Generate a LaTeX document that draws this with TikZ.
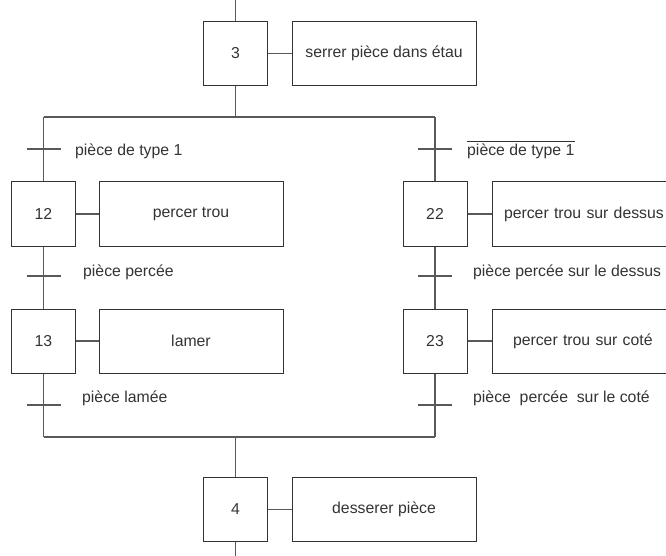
\documentclass[tikz,border=0pt]{standalone}
\usepackage{fontspec}
\setmainfont{Liberation Sans}
\begin{document}
\begin{tikzpicture}[x=1pt,y=-1pt,
  every node/.style={font=\fontsize{15.8}{19}\selectfont, text=black!80},
  stepbox/.style={draw=black!80, line width=1pt, minimum width=64pt, minimum height=64pt, inner sep=0pt},
  actbox/.style={draw=black!80, line width=1pt, minimum width=184pt, minimum height=64pt, inner sep=0pt},
  wire/.style={draw=black!65, line width=1.1pt},
  tbar/.style={draw=black!65, line width=1.3pt},
  lbl/.style={anchor=mid west, inner sep=0pt}]
\useasboundingbox (0,0) rectangle (666,556);
\begin{scope}
\clip (0,0) rectangle (666,556);
% steps
\node[stepbox] (s3) at (235.5,53.5) {3};
\node[actbox] (a3) at (384,53.5) {serrer pièce dans étau};
\node[stepbox] (s12) at (43.5,214) {12};
\node[actbox] (a12) at (191,214) {percer trou};
\node[stepbox] (s13) at (43.5,341) {13};
\node[actbox] (a13) at (191,341) {lamer};
\node[stepbox] (s22) at (435,214) {22};
\node[actbox, text width=184pt] (a22) at (584,214) {\hspace*{12pt}percer trou sur dessus};
\node[stepbox] (s23) at (435,341) {23};
\node[actbox, text width=184pt] (a23) at (584,341) {\hspace*{21pt}percer trou sur coté};
\node[stepbox] (s4) at (235.5,509.5) {4};
\node[actbox] (a4) at (384,509.5) {desserer pièce};
% coordinates
\coordinate (top) at (235.5,0);
\coordinate (bot) at (235.5,556);
\coordinate (dc) at (235.5,117);
\coordinate (dl) at (43.5,117);
\coordinate (dr) at (435,117);
\coordinate (cc) at (235.5,437);
\coordinate (cl) at (43.5,437);
\coordinate (cr) at (435,437);
\coordinate (t1) at (43.5,149);
\coordinate (t2) at (43.5,276);
\coordinate (t3) at (43.5,405);
\coordinate (t4) at (435,149);
\coordinate (t5) at (435,276);
\coordinate (t6) at (435,405);
% links step-action
\draw[wire] (s3) -- (a3);
\draw[wire] (s12) -- (a12);
\draw[wire] (s13) -- (a13);
\draw[wire] (s22) -- (a22);
\draw[wire] (s23) -- (a23);
\draw[wire] (s4) -- (a4);
% flow
\draw[wire] (top) -- (s3.north);
\draw[wire] (s3.south) -- (dc);
\draw[wire] (dl) -- (dr);
\draw[wire] (dl) -- (s12.north);
\draw[wire] (dr) -- (s22.north);
\draw[wire] (s12.south) -- (s13.north);
\draw[wire] (s22.south) -- (s23.north);
\draw[wire] (s13.south) -- (cl);
\draw[wire] (s23.south) -- (cr);
\draw[wire] (cl) -- (cr);
\draw[wire] (cc) -- (s4.north);
\draw[wire] (s4.south) -- (bot);
% transitions
\foreach \t in {t1,t2,t3,t4,t5,t6} {\draw[tbar] (\t) +(-17,0) -- +(17,0);}
% labels
\node[lbl] (l1) at (75,153) {pièce de type 1};
\node[lbl] (l2) at (83,274) {pièce percée};
\node[lbl] (l3) at (82,400) {pièce lamée};
\node[lbl] (l4) at (467,153) {pièce de type 1};
\draw[draw=black!80, line width=1pt] ([yshift=2pt]l4.north west) -- ([yshift=2pt]l4.north east);
\node[lbl] (l5) at (473,274) {pièce percée sur le dessus};
\node[lbl] (l6) at (473,400) {pièce\ \ percée\ \ sur le coté};
\end{scope}
\end{tikzpicture}
\end{document}
